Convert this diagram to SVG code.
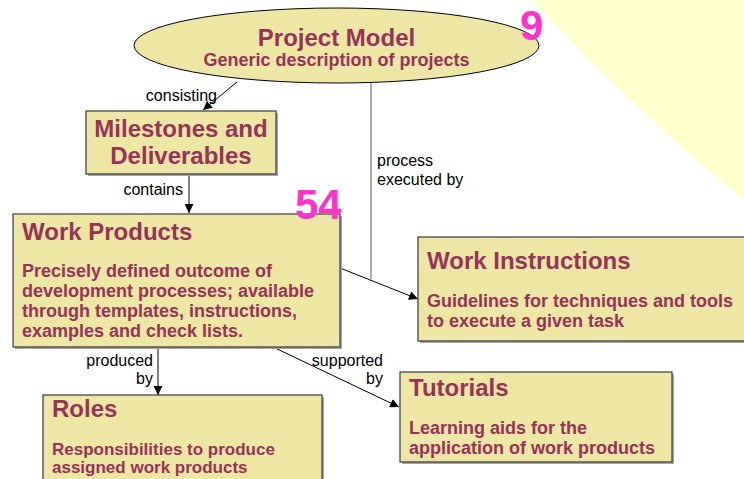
<svg xmlns="http://www.w3.org/2000/svg" width="744" height="479" viewBox="0 0 744 479">
  <defs>
    <marker id="arr" viewBox="0 0 10 10" refX="10" refY="5" markerWidth="9" markerHeight="9" markerUnits="userSpaceOnUse" orient="auto">
      <path d="M0,0 L10,5 L0,10 Z" fill="#000"/>
    </marker>
    <style>
      .box { fill: #EEE6A5; stroke: #3a3a3a; stroke-width: 1.2; }
      .shadow { fill: #a8a8a8; }
      .title { font-family: "Liberation Sans", Arial, sans-serif; font-weight: bold; font-size: 24px; fill: #993355; }
      .body { font-family: "Liberation Sans", Arial, sans-serif; font-weight: bold; font-size: 18px; fill: #993355; }
      .small { font-size: 17px; }
      .lbl { font-family: "Liberation Sans", Arial, sans-serif; font-size: 16px; fill: #000; }
      .num { font-family: "Liberation Sans", Arial, sans-serif; font-weight: bold; fill: #FF33CC; }
      .conn { stroke: #000; stroke-width: 1; fill: none; }
    </style>
  </defs>
  <rect x="0" y="0" width="744" height="479" fill="#ffffff"/>
  <circle cx="1961" cy="-1302" r="1933" fill="#FFFFCC"/>

  <g id="connectors">
    <line x1="371" y1="83" x2="371" y2="279" stroke="#808080" stroke-width="1.3"/>
    <line class="conn" x1="237" y1="82" x2="203" y2="110" marker-end="url(#arr)"/>
    <line class="conn" x1="189" y1="174" x2="189" y2="213" marker-end="url(#arr)"/>
    <line class="conn" x1="340" y1="268" x2="418" y2="299" marker-end="url(#arr)"/>
    <line class="conn" x1="158" y1="347" x2="158" y2="395" marker-end="url(#arr)"/>
    <line class="conn" x1="273" y1="347" x2="399" y2="407" marker-end="url(#arr)"/>
    <text class="lbl" x="217" y="101" text-anchor="end">consisting</text>
    <text class="lbl" x="183" y="195" text-anchor="end">contains</text>
    <text class="lbl" x="377" y="166">process</text>
    <text class="lbl" x="377" y="185">executed by</text>
    <text class="lbl" x="153" y="366" text-anchor="end">produced</text>
    <text class="lbl" x="153" y="384" text-anchor="end">by</text>
    <text class="lbl" x="383" y="366" text-anchor="end">supported</text>
    <text class="lbl" x="383" y="384" text-anchor="end">by</text>
  </g>

  <g id="project-model">
    <ellipse cx="336.5" cy="45.5" rx="202.5" ry="37.5" fill="#EEE6A5" stroke="#000" stroke-width="1"/>
    <text class="title" x="336.5" y="46" text-anchor="middle">Project Model</text>
    <text class="body" x="336.5" y="66" text-anchor="middle">Generic description of projects</text>
  </g>

  <g id="milestones">
    <rect class="shadow" x="88" y="113" width="190" height="63"/>
    <rect class="box" x="86" y="111" width="190" height="63"/>
    <text class="title" x="181" y="137" text-anchor="middle">Milestones and</text>
    <text class="title" x="181" y="164" text-anchor="middle">Deliverables</text>
  </g>

  <g id="work-products">
    <rect class="shadow" x="15" y="216" width="327" height="133"/>
    <rect class="box" x="13" y="214" width="327" height="133"/>
    <text class="title" x="22" y="240">Work Products</text>
    <text class="body" x="22" y="277">Precisely defined outcome of</text>
    <text class="body" x="22" y="297">development processes; available</text>
    <text class="body" x="22" y="317">through templates, instructions,</text>
    <text class="body" x="22" y="337">examples and check lists.</text>
  </g>

  <g id="work-instructions">
    <rect class="shadow" x="420" y="239" width="330" height="104"/>
    <rect class="box" x="418" y="237" width="330" height="104"/>
    <text class="title" x="427" y="269">Work Instructions</text>
    <text class="body" x="427" y="307">Guidelines for techniques and tools</text>
    <text class="body" x="427" y="327">to execute a given task</text>
  </g>

  <g id="roles">
    <rect class="shadow" x="45" y="397" width="279" height="90"/>
    <rect class="box" x="43" y="395" width="279" height="90"/>
    <text class="title" x="52" y="417">Roles</text>
    <text class="body small" x="52" y="455">Responsibilities to produce</text>
    <text class="body small" x="52" y="473">assigned work products</text>
  </g>

  <g id="tutorials">
    <rect class="shadow" x="402" y="374" width="272" height="90"/>
    <rect class="box" x="400" y="372" width="272" height="90"/>
    <text class="title" x="409" y="396">Tutorials</text>
    <text class="body" x="409" y="434">Learning aids for the</text>
    <text class="body" x="409" y="454">application of work products</text>
  </g>

  <g id="numbers">
    <text class="num" x="520" y="40" font-size="42">9</text>
    <text class="num" x="295" y="219" font-size="42">54</text>
  </g>
</svg>
